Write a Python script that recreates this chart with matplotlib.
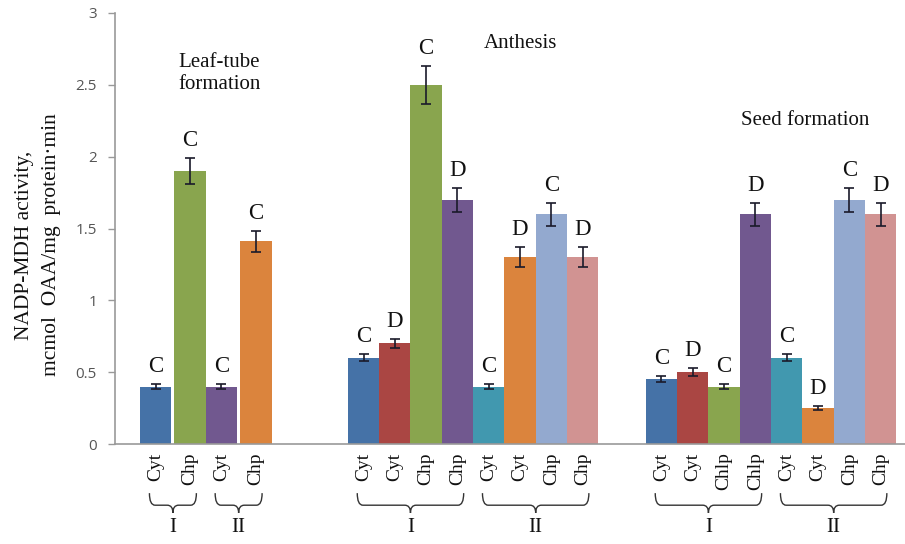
import matplotlib
matplotlib.use("Agg")
import matplotlib.pyplot as plt
from matplotlib.path import Path
from matplotlib.patches import PathPatch
import numpy as np

# data
leaf_labels = ['Cyt', 'Chp', 'Cyt', 'Chp']
leaf_vals = [0.40, 1.90, 0.40, 1.41]
leaf_err = [0.02, 0.09, 0.02, 0.075]
leaf_marks = ['C', 'C', 'C', 'C']

anth_labels = ['Cyt', 'Cyt', 'Chp', 'Chp', 'Cyt', 'Cyt', 'Chp', 'Chp']
anth_vals = [0.60, 0.70, 2.50, 1.70, 0.40, 1.30, 1.60, 1.30]
anth_err = [0.025, 0.03, 0.13, 0.085, 0.02, 0.07, 0.08, 0.07]
anth_marks = ['C', 'D', 'C', 'D', 'C', 'D', 'C', 'D']

seed_labels = ['Cyt', 'Cyt', 'Chlp', 'Chlp', 'Cyt', 'Cyt', 'Chp', 'Chp']
seed_vals = [0.455, 0.50, 0.40, 1.60, 0.60, 0.25, 1.70, 1.60]
seed_err = [0.02, 0.03, 0.02, 0.08, 0.025, 0.012, 0.085, 0.08]
seed_marks = ['C', 'D', 'C', 'D', 'C', 'D', 'C', 'D']

sub_names = ['I', 'II']
stage_names = ['Leaf-tube\nformation', 'Anthesis', 'Seed formation']

# style
pal = {'blue': '#4572A7', 'red': '#AA4643', 'green': '#89A54E', 'purple': '#71588F',
       'teal': '#4198AF', 'orange': '#DB843D', 'lblue': '#93A9CF', 'pink': '#D19392'}
leaf_cols = [pal['blue'], pal['green'], pal['purple'], pal['orange']]
full_cols = [pal[k] for k in ['blue', 'red', 'green', 'purple', 'teal', 'orange', 'lblue', 'pink']]

serif = ['Liberation Serif', 'DejaVu Serif']

# layout (units of one bar width)
leaf_x = 0.8 + np.array([0, 1.1, 2.1, 3.2]) + 0.5
anth_x = 7.44 + np.arange(8) + 0.5
seed_x = 16.96 + np.arange(8) + 0.5

fig = plt.figure(figsize=(9.05, 5.44), dpi=100)
ax = fig.add_axes([115 / 905, 1 - 444 / 544, 790 / 905, 431 / 544])

groups = [
    (leaf_x, leaf_vals, leaf_err, leaf_marks, leaf_labels, leaf_cols, [2, 2]),
    (anth_x, anth_vals, anth_err, anth_marks, anth_labels, full_cols, [4, 4]),
    (seed_x, seed_vals, seed_err, seed_marks, seed_labels, full_cols, [4, 4]),
]

ticks, tick_labels = [], []
trans = ax.get_xaxis_transform()


def brace(x0, x1, y_top=-0.114, y_bot=-0.142, y_tip=-0.160, d=0.18):
    xm = (x0 + x1) / 2
    verts = [(x0, y_top), (x0, y_bot), (x0 + d, y_bot),
             (xm - d, y_bot), (xm, y_bot), (xm, y_tip),
             (xm, y_bot), (xm + d, y_bot),
             (x1 - d, y_bot), (x1, y_bot), (x1, y_top)]
    codes = [Path.MOVETO, Path.CURVE3, Path.CURVE3,
             Path.LINETO, Path.CURVE3, Path.CURVE3,
             Path.CURVE3, Path.CURVE3,
             Path.LINETO, Path.CURVE3, Path.CURVE3]
    p = PathPatch(Path(verts, codes), transform=trans, fill=False,
                  edgecolor='#333333', lw=1.0, clip_on=False)
    ax.add_patch(p)


for xs, vals, errs, marks, labs, cols, sizes in groups:
    ax.bar(xs, vals, width=1.0, color=cols, edgecolor='none', zorder=2)
    ax.errorbar(xs, vals, yerr=errs, fmt='none', ecolor='#1a1a2a',
                elinewidth=1.2, capsize=3.5, capthick=1.2, zorder=3)
    for x, v, e, m in zip(xs, vals, errs, marks):
        ax.annotate(m, (x, v + e), xytext=(0, 5), textcoords='offset points',
                    ha='center', va='bottom', fontsize=16.5, family=serif, color='#111111')
    ticks += list(xs)
    tick_labels += labs
    start = 0
    for n, name in zip(sizes, sub_names):
        x0 = xs[start] - 0.2
        x1 = xs[start + n - 1] + 0.2
        brace(x0, x1)
        ax.text((x0 + x1) / 2, -0.193, name, transform=trans, ha='center', va='center',
                fontsize=15, family=serif, color='#111111')
        start += n

ax.text(2.01, 2.58, stage_names[0], ha='left', va='center', fontsize=15,
        family=serif, linespacing=1.25, color='#111111')
ax.text(12.97, 2.79, stage_names[1], ha='center', va='center', fontsize=15,
        family=serif, color='#111111')
ax.text(22.04, 2.25, stage_names[2], ha='center', va='center', fontsize=15,
        family=serif, color='#111111')

ax.set_xlim(0, 790 / 31.3)
ax.set_ylim(0, 3)
ax.set_yticks([0, 0.5, 1, 1.5, 2, 2.5, 3])
ax.set_yticklabels(['0', '0.5', '1', '1.5', '2', '2.5', '3'])
ax.set_xticks(ticks)
ax.set_xticklabels(tick_labels, rotation=90, family=serif, fontsize=14, color='#111111')
ax.tick_params(axis='x', length=0, pad=6)
ax.tick_params(axis='y', length=5, width=1, color='#999999', labelcolor='#555555',
               labelsize=11, pad=8)
for t in ax.get_yticklabels():
    t.set_family(['Open Sans', 'DejaVu Sans'])

for s in ['top', 'right']:
    ax.spines[s].set_visible(False)
for s in ['left', 'bottom']:
    ax.spines[s].set_color('#999999')
    ax.spines[s].set_linewidth(1.2)

fig.text(38 / 905, 1 - 245 / 544, 'NADP-MDH activity,\nmcmol  OAA/mg  protein·min',
         rotation=90, ha='center', va='center', fontsize=15.5, family=serif,
         linespacing=1.55, color='#111111')

fig.savefig('out.png', dpi=100)
